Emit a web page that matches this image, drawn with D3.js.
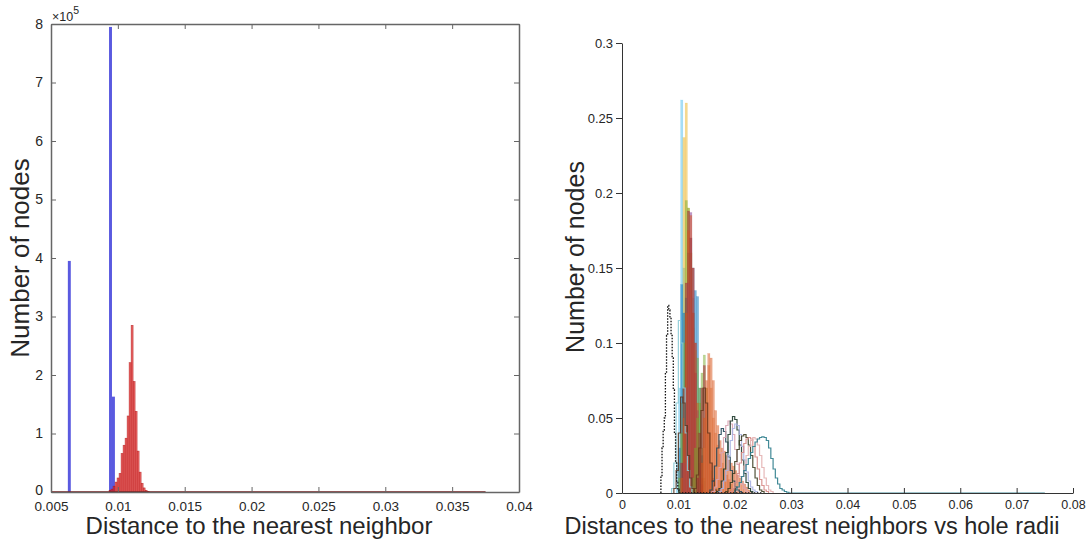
<!DOCTYPE html>
<html><head><meta charset="utf-8">
<script src="https://cdn.jsdelivr.net/npm/d3@7"></script>
<style>
body{margin:0;background:#fff}
svg{display:block}
text{font-family:"Liberation Sans",Arial,Helvetica,sans-serif;fill:#262626}
</style>
</head><body>
<svg id="chart" width="1088" height="544"></svg>
<script>
// ---------------- LEFT PANEL DATA ----------------
const leftXTicks = [0.005, 0.01, 0.015, 0.02, 0.025, 0.03, 0.035, 0.04];
const leftXTickLabels = ["0.005", "0.01", "0.015", "0.02", "0.025", "0.03", "0.035", "0.04"];
const leftYTicks = [0, 1, 2, 3, 4, 5, 6, 7, 8];
const leftYTickLabels = ["0", "1", "2", "3", "4", "5", "6", "7", "8"];
const leftXLabel = "Distance to the nearest neighbor";
const leftYLabel = "Number of nodes";
// blue histogram (counts in units of 1e5)
const blueStart = 0.00626;
const blueBinWidth = 0.00022;
const blueCounts = [3.95, 0, 0, 0, 0, 0, 0, 0, 0, 0, 0, 0, 0, 0, 7.95, 1.63];
// red histogram (counts in units of 1e5)
const redStart = 0.00934;
const redBinWidth = 0.00015;
const redCounts = [0.03, 0.05, 0.10, 0.17, 0.24, 0.32, 0.66, 0.80, 0.92, 1.30, 2.21, 2.85, 1.89, 1.38, 0.70, 0.34, 0.15, 0.07, 0.03, 0.01];
const redBaselineRange = [0.005, 0.0375];

// ---------------- RIGHT PANEL DATA ----------------
const rightXTicks = [0, 0.01, 0.02, 0.03, 0.04, 0.05, 0.06, 0.07, 0.08];
const rightXTickLabels = ["0", "0.01", "0.02", "0.03", "0.04", "0.05", "0.06", "0.07", "0.08"];
const rightYTicks = [0, 0.05, 0.1, 0.15, 0.2, 0.25, 0.3];
const rightYTickLabels = ["0", "0.05", "0.1", "0.15", "0.2", "0.25", "0.3"];
const rightXLabel = "Distances to the nearest neighbors vs hole radii";
const rightYLabel = "Number of nodes";
const rightBinWidth = 0.0004;

// filled (translucent) histograms: start of first bin and bin heights
const fillStarts = [0.0096, 0.0100, 0.0100, 0.0100, 0.0104, 0.0108, 0.0104, 0.0124, 0.0132, 0.0140, 0.0144];
const fillLightBlue = [0.02, 0.07, 0.262, 0.15, 0.12, 0.10, 0.135, 0.13, 0.06, 0.02, 0.006];
const fillYellow    = [0.02, 0.06, 0.237, 0.26, 0.19, 0.16, 0.11, 0.10, 0.05, 0.02, 0.005];
const fillBlue      = [0.03, 0.139, 0.12, 0.13, 0.16, 0.17, 0.15, 0.135, 0.131, 0.07, 0.025, 0.008];
const fillGreen     = [0.01, 0.04, 0.10, 0.195, 0.19, 0.16, 0.12, 0.095, 0.09, 0.06, 0.03, 0.01];
const fillDarkRed   = [0.02, 0.07, 0.14, 0.188, 0.17, 0.12, 0.08, 0.04, 0.015, 0.005];
const fillPurple    = [0.02, 0.07, 0.14, 0.187, 0.15, 0.10, 0.055, 0.02, 0.006];
const fillOrange    = [0.01, 0.05, 0.12, 0.175, 0.185, 0.15, 0.10, 0.06, 0.03, 0.01];
const fillGreen2    = [0.01, 0.03, 0.05, 0.07, 0.08, 0.092, 0.07, 0.04, 0.015, 0.005];
const fillDarkRed2  = [0.01, 0.04, 0.07, 0.085, 0.06, 0.04, 0.02, 0.01];
const fillOrange2   = [0.02, 0.05, 0.075, 0.093, 0.09, 0.075, 0.055, 0.045, 0.035, 0.03, 0.028, 0.025, 0.022, 0.02, 0.018, 0.015, 0.012, 0.01, 0.008, 0.006, 0.004, 0.002];
const fillOrange3   = [0.03, 0.07, 0.085, 0.07, 0.05, 0.04, 0.032, 0.026, 0.02, 0.016, 0.012, 0.009, 0.006, 0.003];
const fillSeriesValues = [fillLightBlue, fillYellow, fillBlue, fillGreen, fillDarkRed, fillPurple, fillOrange, fillGreen2, fillDarkRed2, fillOrange2, fillOrange3];
const fillColors = ["#4DBEEE", "#EDB120", "#0072BD", "#77AC30", "#A2142F", "#7E2F8E", "#D95319", "#77AC30", "#A2142F", "#D95319", "#E0703A"];

// outline (stairs) histograms
const dottedStart = 0.0069, dottedBinWidth = 0.0002, dottedTailEnd = 0.025;
const dottedValues = [0.011, 0.03, 0.042, 0.05, 0.08, 0.105, 0.125, 0.122, 0.117, 0.105, 0.09, 0.069, 0.04, 0.02, 0.007, 0.002];

const lineStarts = [0.0088, 0.0092, 0.0128, 0.0156, 0.0160, 0.0168, 0.0172, 0.0184, 0.0192, 0.0200, 0.0200];
const lineLightTeal = [0.003, 0.02, 0.06, 0.115, 0.10, 0.07, 0.04, 0.015, 0.004];
const lineBrown     = [0.003, 0.015, 0.04, 0.064, 0.06, 0.045, 0.025, 0.01, 0.003];
const lineBrown2    = [0.003, 0.012, 0.03, 0.055, 0.07, 0.06, 0.04, 0.02, 0.008, 0.002];
const lineSlate     = [0.002, 0.008, 0.018, 0.03, 0.039, 0.043, 0.041, 0.034, 0.024, 0.015, 0.008, 0.004, 0.002, 0.001];
const linePink      = [0.001, 0.004, 0.009, 0.017, 0.027, 0.037, 0.045, 0.048, 0.046, 0.039, 0.029, 0.019, 0.011, 0.006, 0.003, 0.001];
const lineDarkGreen = [0.001, 0.003, 0.008, 0.016, 0.027, 0.039, 0.048, 0.051, 0.049, 0.042, 0.032, 0.022, 0.013, 0.007, 0.003, 0.001];
const lineLavender  = [0.001, 0.003, 0.008, 0.015, 0.025, 0.035, 0.043, 0.046, 0.045, 0.039, 0.031, 0.022, 0.014, 0.008, 0.004, 0.002, 0.001];
const lineOlive     = [0.001, 0.003, 0.007, 0.013, 0.021, 0.029, 0.035, 0.038, 0.039, 0.037, 0.032, 0.025, 0.017, 0.01, 0.005, 0.002, 0.001];
const lineSalmon    = [0.001, 0.003, 0.007, 0.013, 0.02, 0.027, 0.033, 0.036, 0.037, 0.036, 0.031, 0.024, 0.016, 0.009, 0.005, 0.002, 0.001];
const lineLightPink = [0.001, 0.003, 0.006, 0.011, 0.018, 0.025, 0.031, 0.035, 0.037, 0.036, 0.032, 0.025, 0.017, 0.01, 0.005, 0.002, 0.001];
const lineTeal      = [0.002, 0.004, 0.007, 0.011, 0.015, 0.019, 0.023, 0.027, 0.031, 0.034, 0.036, 0.037, 0.0375, 0.037, 0.035, 0.03, 0.023, 0.016, 0.01, 0.006, 0.003, 0.002, 0.001, 0.0005];
const lineTailEnds = [null, null, null, null, null, null, null, null, null, null, 0.075];
const lineSeriesValues = [lineLightTeal, lineBrown, lineBrown2, lineSlate, linePink, lineDarkGreen, lineLavender, lineOlive, lineSalmon, lineLightPink, lineTeal];
const lineColors = ["#8ccbd6", "#5b3b28", "#6b3a1f", "#24485a", "#d9a3b3", "#1e3a2c", "#a7b0e2", "#3e3e22", "#d68a86", "#e3b0b0", "#2e7d8c"];

// ---------------- DRAWING ----------------
const svg = d3.select("#chart");
svg.append("rect").attr("width", 1088).attr("height", 544).attr("fill", "#fff");

// ===== LEFT PANEL =====
const lx = d3.scaleLinear().domain([0.005, 0.04]).range([51, 519]);
const ly = d3.scaleLinear().domain([0, 8]).range([492, 24]);
const L = svg.append("g");

// blue bars
L.append("g").selectAll("rect").data(blueCounts.map((v, i) => ({x0: blueStart + i * blueBinWidth, v})))
  .join("rect")
  .attr("x", d => lx(d.x0)).attr("width", d => lx(d.x0 + blueBinWidth) - lx(d.x0))
  .attr("y", d => ly(d.v)).attr("height", d => ly(0) - ly(d.v))
  .attr("fill", "#5a5ae0");

// red bars (translucent with darker edges)
L.append("g").selectAll("rect").data(redCounts.map((v, i) => ({x0: redStart + i * redBinWidth, v})))
  .join("rect")
  .attr("x", d => lx(d.x0)).attr("width", d => lx(d.x0 + redBinWidth) - lx(d.x0))
  .attr("y", d => ly(d.v)).attr("height", d => ly(0) - ly(d.v))
  .attr("fill", "rgba(222,40,40,0.72)")
  .attr("stroke", "rgba(170,10,10,0.75)").attr("stroke-width", 0.5);

// red baseline of empty bins
L.append("line")
  .attr("x1", lx(redBaselineRange[0])).attr("x2", lx(redBaselineRange[1]))
  .attr("y1", ly(0)).attr("y2", ly(0))
  .attr("stroke", "#7a1a1a").attr("stroke-width", 1.6);

const leftAxisColor = "#666";
function styleAxis(g, color, width) {
  g.selectAll(".domain").attr("stroke", color).attr("stroke-width", width);
  g.selectAll(".tick line").attr("stroke", color).attr("stroke-width", 1);
  g.selectAll(".tick text").attr("fill", "#262626").attr("font-family", "Liberation Sans, Arial, sans-serif");
}

const lxAxis = L.append("g").attr("transform", `translate(0,${ly(0)})`)
  .call(d3.axisBottom(lx).tickValues(leftXTicks).tickFormat((d, i) => leftXTickLabels[i])
    .tickSizeInner(-5).tickSizeOuter(0).tickPadding(9));
lxAxis.selectAll(".tick text").attr("font-size", 13.5);
styleAxis(lxAxis, leftAxisColor, 1.5);

const lxTop = L.append("g").attr("transform", `translate(0,${ly(8)})`)
  .call(d3.axisTop(lx).tickValues(leftXTicks).tickFormat("").tickSizeInner(-5).tickSizeOuter(0));
styleAxis(lxTop, leftAxisColor, 1.5);

const lyAxis = L.append("g").attr("transform", `translate(${lx(0.005)},0)`)
  .call(d3.axisLeft(ly).tickValues(leftYTicks).tickFormat((d, i) => leftYTickLabels[i])
    .tickSizeInner(-5).tickSizeOuter(0).tickPadding(8));
lyAxis.selectAll(".tick text").attr("font-size", 14);
lyAxis.selectAll(".tick text").filter((d, i) => i === 0).attr("dy", "0.2em");
styleAxis(lyAxis, leftAxisColor, 1.5);

const lyRight = L.append("g").attr("transform", `translate(${lx(0.04)},0)`)
  .call(d3.axisRight(ly).tickValues(leftYTicks).tickFormat("").tickSizeInner(-5).tickSizeOuter(0));
styleAxis(lyRight, leftAxisColor, 1.5);

// exponent label
const expText = L.append("text").attr("x", 52).attr("y", 21).attr("font-size", 12.5);
expText.append("tspan").text("\u00d710");
expText.append("tspan").attr("dy", -7).attr("font-size", 10.5).text("5");

L.append("text").attr("x", 259).attr("y", 534)
  .attr("text-anchor", "middle").attr("font-size", 24).text(leftXLabel);
L.append("text").attr("transform", `translate(29,${(ly(0) + ly(8)) / 2}) rotate(-90)`)
  .attr("text-anchor", "middle").attr("font-size", 26).text(leftYLabel);

// ===== RIGHT PANEL =====
const rx = d3.scaleLinear().domain([0, 0.08]).range([622, 1073]);
const ry = d3.scaleLinear().domain([0, 0.3]).range([493, 43]);
const R = svg.append("g");

// filled translucent histograms
fillSeriesValues.forEach((vals, k) => {
  const s = fillStarts[k];
  R.append("g").selectAll("rect").data(vals.map((v, i) => ({x0: s + i * rightBinWidth, v})))
    .join("rect")
    .attr("x", d => rx(d.x0)).attr("width", d => rx(d.x0 + rightBinWidth) - rx(d.x0))
    .attr("y", d => ry(d.v)).attr("height", d => ry(0) - ry(d.v))
    .attr("fill", fillColors[k]).attr("fill-opacity", 0.5)
    .attr("stroke", fillColors[k]).attr("stroke-opacity", 0.25).attr("stroke-width", 0.5);
});

function stairsPath(start, w, vals, tailEnd) {
  const p = d3.path();
  p.moveTo(rx(start), ry(0));
  vals.forEach((v, i) => {
    p.lineTo(rx(start + i * w), ry(v));
    p.lineTo(rx(start + (i + 1) * w), ry(v));
  });
  p.lineTo(rx(start + vals.length * w), ry(0));
  if (tailEnd != null) p.lineTo(rx(tailEnd), ry(0));
  return p.toString();
}

lineSeriesValues.forEach((vals, k) => {
  R.append("path").attr("d", stairsPath(lineStarts[k], rightBinWidth, vals, lineTailEnds[k]))
    .attr("fill", "none").attr("stroke", lineColors[k]).attr("stroke-width", 1.2)
    .attr("stroke-opacity", 0.9);
});

R.append("path").attr("d", stairsPath(dottedStart, dottedBinWidth, dottedValues, dottedTailEnd))
  .attr("fill", "none").attr("stroke", "#111").attr("stroke-width", 1.3)
  .attr("stroke-dasharray", "1.5,1.5");

const rightAxisColor = "#333";
const rxAxis = R.append("g").attr("transform", `translate(0,${ry(0)})`)
  .call(d3.axisBottom(rx).tickValues(rightXTicks).tickFormat((d, i) => rightXTickLabels[i])
    .tickSizeInner(-5).tickSizeOuter(0).tickPadding(7));
rxAxis.selectAll(".tick text").attr("font-size", 12.5);
styleAxis(rxAxis, rightAxisColor, 1);

const ryAxis = R.append("g").attr("transform", `translate(${rx(0)},0)`)
  .call(d3.axisLeft(ry).tickValues(rightYTicks).tickFormat((d, i) => rightYTickLabels[i])
    .tickSizeInner(6).tickSizeOuter(0).tickPadding(3));
ryAxis.selectAll(".tick text").attr("font-size", 13);
styleAxis(ryAxis, rightAxisColor, 1);

R.append("text").attr("x", 812).attr("y", 534)
  .attr("text-anchor", "middle").attr("font-size", 23.5).text(rightXLabel);
R.append("text").attr("transform", `translate(584,257) rotate(-90)`)
  .attr("text-anchor", "middle").attr("font-size", 25).text(rightYLabel);
</script>
</body></html>
